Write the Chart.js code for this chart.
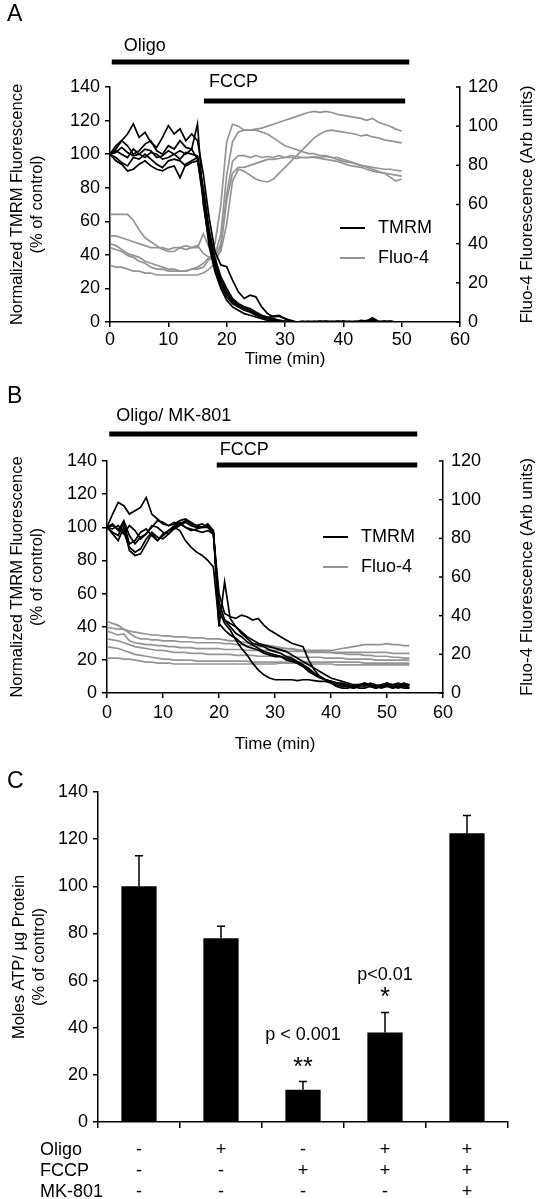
<!DOCTYPE html>
<html>
<head>
<meta charset="utf-8">
<script src="https://cdn.jsdelivr.net/npm/chart.js@4.4.1/dist/chart.umd.min.js"></script>
<style>
  body { margin: 0; background: #fff; }
  #fig { position: relative; width: 537px; height: 1199px; font-family: "Liberation Sans", Arial, sans-serif; }
  canvas { position: absolute; left: 0; }
  .letter { position: absolute; left: 7px; font-size: 23px; color: #000; z-index: 2; }
</style>
</head>
<body>
<div id="fig">
  <canvas id="chartA" width="537" height="372" style="top:0px"></canvas>
  <canvas id="chartB" width="537" height="383" style="top:372px"></canvas>
  <canvas id="chartC" width="537" height="444" style="top:755px"></canvas>
  <div class="letter" style="top:0px">A</div>
  <div class="letter" style="top:382px">B</div>
  <div class="letter" style="top:767px">C</div>
</div>
<script>
// ---- panel A: time (min), TMRM (% of control), Fluo-4 (arb units)
const timeA = [0,1,2,3,4,5,6,7,8,9,10,11,12,13,14,15,16,17,18,19,20,21,22,23,24,25,26,27,28,29,30,31,32,33,34,35,36,37,38,39,40,41,42,43,44,45,46,47,48,49,50];

const tmrmA1 = [100,105,108,112,118,110,113,107,104,110,117,112,115,108,112,108, 88,62,42,34,33,25,18,14,16,15,9,5,3,3.5,2, 0.5,0,0,-0.5,0,0.5,0,0,0.5,0,0,0.5,0,1,0.5,0,0.5,0,0,0];
const tmrmA2 = [100,103,108,105,100,102,106,108,102,100,105,103,108,104,103,118, 70,48,32,22,15,11,9,8,6,4,3,2,1.5,1,0.5, 0,0,0.5,0,-0.5,0,0.5,0,0,0.5,0,0,1,0.5,2.5,0.5,0,0.5,0,0];
const tmrmA3 = [100,98,95,93,98,97,100,97,94,92,96,97,96,93,95,96, 75,52,36,25,18,13,10,9,7,5,3,2,1,0.5,0, 0,-0.5,0,0,0.5,0,0,0.5,0,0,0.5,0,0,0.5,1,0,0,0.5,0,0];
const tmrmA4 = [100,96,94,90,91,94,96,93,91,90,92,93,86,94,96,98, 72,45,30,20,13,9,7,5,4,3,2,1,0.5,0,0, 0,0,0,0.5,0,0,0,0,0.5,0,0,0,0.5,0,0.5,0,0,0,0,0];
const tmrmA5 = [100,102,100,98,103,100,98,101,100,97,98,100,97,101,100,99, 80,55,38,27,20,14,11,9,8,6,4,3,2,1,0.5, 0,0,0,0,0,0.5,0,0,0,0.5,0,0,0,0.5,0,0,0.5,0,0,0];
const tmrmA6 = [100,101,104,101,99,100,103,102,98,99,102,100,102,100,103,97, 78,50,34,24,17,12,9,7,6,4.5,3,2.5,3.5,4,2, 1,0,0,0,0,0,0.5,0,0,0,0,0,0,0.5,1.5,0,0,0,0,0];

const fluoA1 = [55,55,55,55,52,47,43,41,39,37,36,36,38,37,38,38, 45,38,40,60,92,101,100,98,98,98,97,96,94,92,90,89,88,87,86,86,85,85,84,84,83,82,81,80,79,78,77,76,74,72,73];
const fluoA2 = [44,44,43,42,41,40,39,38,38,38,37,38,38,39,38,39, 35,33,34,45,75,92,97,98,98,98.5,99,100,101,102,103,104,105,106,107,107.5,107,107.5,107,106,105.5,105,104.5,104,103,104,102,101,100,98.5,97.5];
const fluoA3 = [40,39,37,35,34,33,31,30,29,28,27,27,26,26,27,27, 28,32,33,40,65,82,85,85,84,85,84,84.5,84,85,84,85,84.5,84,84,84.5,84,84.5,84,83,82,81.5,81,80,79.5,79,78.5,78,78,77.5,77];
const fluoA4 = [38,37,36,34,33,31,30,28,27,27,26,26,26,26,27,28, 30,33,32,36,50,72,78,77,75,73,72,71.5,73,76,79,82,85,88,91,94,96,97.5,98,97.5,97,96.5,96,95,95.5,94.5,94,93,92.5,92,91.5];
const fluoA5 = [29,28,28,27,26,26,25,25,24,24,24,24,24,24,24,24, 25,27,30,38,62,76,79,79,80,81,82,83,83,83.5,84,84,83.5,84,84,84,83.5,83,82.5,82,81,80,79.5,79,78,77,76.5,76,75.5,75,74.5];

const treatLabelsA = ['Oligo', 'FCCP'];
const treatStartA = [0.3, 16.1];
const treatEndA = [51.3, 50.6];

// ---- panel B
const timeB = [0,1,2,3,4,5,6,7,8,9,10,11,12,13,14,15,16,17,18,19,20,21,22,23,24,25,26,27,28,29,30,31,32,33,34,35,36,37,38,39,40,41,42,43,44,45,46,47,48,49,50,51,52,53,54];

const tmrmB1 = [100,108,115,113,108,110,112,118,108,105,102,101,103,102,104,102,101,102,100,96, 55,44,42,40,37,34,32,30,29,28,27,26,25,23,21,19,17,15,13,11,9,8,7,6,5,5,6,5,4,5,6,5,5,4,5];
const tmrmB2 = [100,102,98,104,95,90,94,96,100,104,103,101,102,104,105,103,101,100,102,98, 40,67,45,40,36,33,30,29,28,26,25,24,22,21,19,17,15,12,10,8,7,6,5,4,3,4,5,4,3,4,5,4,3,4,4];
const tmrmB3 = [100,96,92,100,86,83,84,90,96,92,95,98,101,103,100,98,99,100,100,97, 50,42,38,32,27,23,18,14,11,9,8,8,8,8,7.5,8,8,7.5,7,7,6,5,4,4,3,4,5,4,3,4,5,3,4,4,3];
const tmrmB4 = [100,97,95,103,90,92,97,99,95,92,96,98,100,102,100,99,98,97,98,96, 60,48,46,45,47,46,44,45,41,38,36,34,32,30,29,28,20,14,10,8,7,6,5,5,4,5,6,5,4,5,6,5,6,5,5];
const tmrmB5 = [100,99,101,97,88,85,87,93,97,94,93,96,100,98,92,88,85,83,80,76, 42,38,35,33,30,28,27,26,24,23,22,22,21,20,18,16,14,12,10,8,6,4,3,3,4,3,3,4,4,3,4,3,4,3,3];
const tmrmB6 = [100,101,99,96,101,98,93,96,101,100,97,96,99,101,103,101,100,100,101,97, 48,44,40,36,34,31,29,27,25,24,23,22,20,19,18,16,13,11,9,8,7,6,6,5,4,5,4,6,5,4,5,4,5,6,5];

const fluoB1 = [37,36,35,33,32,31.5,31,30.5,30,30,29.5,29.5,29,29,29,28.5,28.5,28.5,28,28,28, 27.5,27,27,26.5,26,25.5,25,25,24.5,24,23.5,23,23,22.5,22,22,22,22,22,22,22.5,23,23.5,24,24.5,25,25,25,25,25.5,25,25,24.5,24.5];
const fluoB2 = [34,33.5,33,33,31,29,28,28,27.5,27.5,27,27,27,26.5,26.5,26.5,26,26,26,26,26, 25.5,25.5,25,25,24.5,24.5,24,24,23.5,23.5,23,23,22.5,22,22,21.5,21.5,21.5,21,21,21,21,21,21,21,21,21,21,21,21,20.5,20.5,20.5,20.5];
const fluoB3 = [32,31,30,30.5,27,26,25.5,25,25,24.5,24.5,24,24,23.5,23.5,23.5,23,23,23,23,23, 22.5,22.5,22.5,22.5,22,22,22,22,22,22,22,21.5,21.5,21.5,21.5,21,21,21,21,21,20.5,20.5,20,20,20,19.5,19.5,19,19,19,18.5,18.5,18,18];
const fluoB4 = [28,27.5,27,26,25,24,23.5,23,22.5,22,22,21.5,21,21,21,20.5,20.5,20.5,20,20,20, 20,20,19.5,19.5,19.5,19.5,19,19,19,19,19,19,19,18.5,18.5,18.5,18.5,18.5,18,18,18,18,17.5,17.5,17.5,17.5,17.5,17,17,17,17,17,17,17];
const fluoB5 = [24,23.5,23,22,21,20,19.5,19,18.5,18,17.5,17.5,17,17,17,17,16.5,16.5,16.5,16.5,16.5, 16.5,16.5,16.5,16.5,16.5,16,16,16,16,16,16,16,16,16,16,16,16,16,16,16,16,16,16,16,16,15.5,15.5,15.5,15.5,15.5,15.5,15.5,15.5,15.5];
const fluoB6 = [18,18,18,17.5,17.5,17,16.5,16,16,15.5,15.5,15.5,15,15,15,15,15,15,15,15,15, 15,15,15,15,15,15,15,15,15,15,15.5,15.5,15.5,15.5,15.5,15,15,15,15,15,14.5,14.5,14.5,14.5,14.5,14.5,14.5,14.5,14.5,14.5,14.5,14.5,14.5,14.5];

const treatLabelsB = ['Oligo/ MK-801', 'FCCP'];
const treatStartB = [0.4, 19.6];
const treatEndB = [55.4, 55.4];

const keyLabels = ['TMRM', 'Fluo-4'];

// ---- panel C
const oligo = ['-', '+', '-', '+', '+'];
const fccp = ['-', '-', '+', '+', '+'];
const mk801 = ['-', '-', '-', '-', '+'];
const rowNames = ['Oligo', 'FCCP', 'MK-801'];
const atp = [100, 78, 13.7, 38, 122.5];
const atpErr = [13, 5, 3.5, 8.5, 7.5];
const noteText = ['p < 0.001', '**', 'p<0.01', '*'];
const noteBar = [2, 2, 3, 3];
const noteAt = [37, 23, 62.4, 52.6];

const FONT = '"Liberation Sans", Arial, sans-serif';
const GRAY = '#949494';
Chart.defaults.font.family = FONT;
Chart.defaults.color = '#000';

// treatment bars (Oligo / FCCP) above the traces
Chart.register({
  id: 'treatments',
  afterDraw(chart, args, o) {
    if (!o || !o.labels) return;
    const {ctx, chartArea} = chart;
    const xs = chart.scales.x;
    ctx.save();
    ctx.fillStyle = '#000';
    ctx.font = '18px ' + FONT;
    ctx.textBaseline = 'middle';
    ctx.textAlign = 'left';
    o.labels.forEach((lab, i) => {
      const x1 = xs.getPixelForValue(o.start[i]);
      const x2 = xs.getPixelForValue(o.end[i]);
      ctx.fillRect(x1, chartArea.top + o.barDy[i] - 2.5, x2 - x1, 5);
      ctx.fillText(lab, x1 + o.textDx[i], chartArea.top + o.textDy[i]);
    });
    ctx.restore();
  }
});

// small key inside the plot
Chart.register({
  id: 'key',
  afterDraw(chart, args, o) {
    if (!o || !o.labels) return;
    const {ctx, chartArea} = chart;
    ctx.save();
    ctx.font = '18px ' + FONT;
    ctx.textBaseline = 'middle';
    o.labels.forEach((lab, i) => {
      const y = chartArea.top + o.dy + i * o.gap;
      const x = chartArea.left + o.dx;
      ctx.strokeStyle = o.colors[i];
      ctx.lineWidth = 2;
      ctx.beginPath(); ctx.moveTo(x, y); ctx.lineTo(x + 25, y); ctx.stroke();
      ctx.fillStyle = '#000';
      ctx.fillText(lab, x + 38, y);
    });
    ctx.restore();
  }
});

// right axis title reading upward + inward tick marks
Chart.register({
  id: 'rightAxis',
  afterDraw(chart, args, o) {
    if (!o || !o.text) return;
    const {ctx, chartArea} = chart;
    const s = chart.scales.yR;
    ctx.save();
    ctx.strokeStyle = '#000';
    ctx.lineWidth = 1.5;
    s.ticks.forEach(t => {
      const y = s.getPixelForValue(t.value);
      ctx.beginPath(); ctx.moveTo(s.left - 4, y); ctx.lineTo(s.left, y); ctx.stroke();
    });
    ctx.translate(o.x, (chartArea.top + chartArea.bottom) / 2);
    ctx.rotate(-Math.PI / 2);
    ctx.font = '17px ' + FONT;
    ctx.fillStyle = '#000';
    ctx.textAlign = 'center';
    ctx.textBaseline = 'middle';
    ctx.fillText(o.text, 0, 0);
    ctx.restore();
  }
});

function traces(series, time, color, axis) {
  return series.map(s => ({
    data: s.map((v, i) => ({x: time[i], y: v})),
    borderColor: color,
    borderWidth: 1.7,
    pointRadius: 0,
    tension: 0,
    yAxisID: axis
  }));
}

function tickFont() { return {size: 18}; }

function timeChart(id, c) {
  return new Chart(document.getElementById(id), {
    type: 'line',
    data: {
      datasets: [...traces(c.tmrm, c.time, '#000', 'yL'), ...traces(c.fluo, c.time, GRAY, 'yR')]
    },
    options: {
      responsive: false,
      animation: false,
      events: [],
      layout: {padding: {top: c.padTop, left: 0, right: 0, bottom: 0}},
      plugins: {
        legend: {display: false},
        tooltip: {enabled: false},
        treatments: c.treat,
        key: c.key,
        rightAxis: {text: 'Fluo-4 Fluorescence (Arb units)', x: 527}
      },
      scales: {
        x: {
          type: 'linear', min: 0, max: 60,
          ticks: {stepSize: 10, font: tickFont(), padding: c.xPad, maxRotation: 0},
          grid: {display: true, drawOnChartArea: false, drawTicks: true, tickLength: 5, color: '#000', lineWidth: 1.5},
          border: {display: true, color: '#000', width: 1.5},
          title: {display: true, text: 'Time (min)', font: {size: 17}, padding: {top: 0, bottom: c.titlePad}},
          afterFit: s => { s.height = c.xH; }
        },
        yL: {
          position: 'left', min: 0, max: 140,
          ticks: {stepSize: 20, font: tickFont(), padding: 5},
          grid: {display: true, drawOnChartArea: false, drawTicks: true, tickLength: 5, color: '#000', lineWidth: 1.5},
          border: {display: true, color: '#000', width: 1.5},
          title: {display: true, text: ['Normalized TMRM Fluorescence', '(% of control)'], font: {size: 16.5, lineHeight: 1.25}, padding: {top: 7, bottom: 0}},
          afterFit: s => { s.width = c.leftW; }
        },
        yR: {
          position: 'right', min: 0, max: 120,
          ticks: {stepSize: 20, font: tickFont(), padding: 8},
          grid: {display: false, drawTicks: false},
          border: {display: true, color: '#000', width: 1.5},
          afterFit: s => { s.width = c.rightW; }
        }
      }
    }
  });
}

timeChart('chartA', {
  time: timeA,
  tmrm: [tmrmA1, tmrmA2, tmrmA3, tmrmA4, tmrmA5, tmrmA6],
  fluo: [fluoA1, fluoA2, fluoA3, fluoA4, fluoA5],
  padTop: 87, xH: 50, xPad: 2, titlePad: 2, leftW: 110, rightW: 77,
  treat: {labels: treatLabelsA, start: treatStartA, end: treatEndA, barDy: [-25, 14], textDy: [-41, -5], textDx: [12, 5]},
  key: {labels: keyLabels, colors: ['#000', GRAY], dx: 230, dy: 141, gap: 30}
});

timeChart('chartB', {
  time: timeB,
  tmrm: [tmrmB1, tmrmB2, tmrmB3, tmrmB4, tmrmB5, tmrmB6],
  fluo: [fluoB1, fluoB2, fluoB3, fluoB4, fluoB5, fluoB6],
  padTop: 89, xH: 62, xPad: 4, titlePad: 0, leftW: 107, rightW: 94,
  treat: {labels: treatLabelsB, start: treatStartB, end: treatEndB, barDy: [-27, 4], textDy: [-45, -11], textDx: [7, 3]},
  key: {labels: keyLabels, colors: ['#000', GRAY], dx: 216, dy: 76, gap: 30}
});

// error bars, notes and row names for the ATP bars
Chart.register({
  id: 'atpExtras',
  afterDatasetsDraw(chart, args, o) {
    if (!o || !o.err) return;
    const {ctx} = chart;
    const ys = chart.scales.y;
    const bars = chart.getDatasetMeta(0).data;
    ctx.save();
    ctx.strokeStyle = '#000';
    ctx.lineWidth = 1.5;
    bars.forEach((b, i) => {
      const yTop = ys.getPixelForValue(o.values[i] + o.err[i]);
      ctx.beginPath();
      ctx.moveTo(b.x, b.y); ctx.lineTo(b.x, yTop);
      ctx.moveTo(b.x - 4, yTop); ctx.lineTo(b.x + 4, yTop);
      ctx.stroke();
    });
    ctx.fillStyle = '#000';
    ctx.textAlign = 'center';
    ctx.textBaseline = 'middle';
    o.notes.forEach((t, i) => {
      ctx.font = (t.startsWith('*') ? '25px ' : '18px ') + FONT;
      ctx.fillText(t, bars[o.noteBar[i]].x, ys.getPixelForValue(o.noteAt[i]));
    });
    ctx.font = '18px ' + FONT;
    ctx.textAlign = 'left';
    const y0 = chart.chartArea.bottom + o.rowTop;
    o.rows.forEach((r, i) => ctx.fillText(r, 40, y0 + i * o.rowGap));
    ctx.restore();
  }
});

new Chart(document.getElementById('chartC'), {
  type: 'bar',
  data: {
    labels: oligo.map((v, i) => [v, fccp[i], mk801[i]]),
    datasets: [{
      data: atp,
      backgroundColor: '#000',
      borderWidth: 0,
      categoryPercentage: 1,
      barPercentage: 0.43
    }]
  },
  options: {
    responsive: false,
    animation: false,
    events: [],
    layout: {padding: {top: 37, left: 0, right: 29, bottom: 0}},
    plugins: {
      legend: {display: false},
      tooltip: {enabled: false},
      atpExtras: {values: atp, err: atpErr, notes: noteText, noteBar: noteBar, noteAt: noteAt,
        rows: rowNames, rowTop: 28, rowGap: 21}
    },
    scales: {
      x: {
        ticks: {font: {size: 18, lineHeight: 1.167}, padding: 11.5, autoSkip: false, maxRotation: 0},
        grid: {display: true, drawOnChartArea: false, drawTicks: true, tickLength: 6, offset: true, color: '#000', lineWidth: 1.5},
        border: {display: true, color: '#000', width: 1.5},
        afterFit: s => { s.height = 77; }
      },
      y: {
        min: 0, max: 140,
        ticks: {stepSize: 20, font: {size: 18}, padding: 5},
        grid: {display: true, drawOnChartArea: false, drawTicks: true, tickLength: 5, color: '#000', lineWidth: 1.5},
        border: {display: true, color: '#000', width: 1.5},
        title: {display: true, text: ['Moles ATP/ µg Protein', '(% of control)'], font: {size: 16.5, lineHeight: 1.25}, padding: {top: 9, bottom: 0}},
        afterFit: s => { s.width = 98; }
      }
    }
  }
});
</script>
</body>
</html>
